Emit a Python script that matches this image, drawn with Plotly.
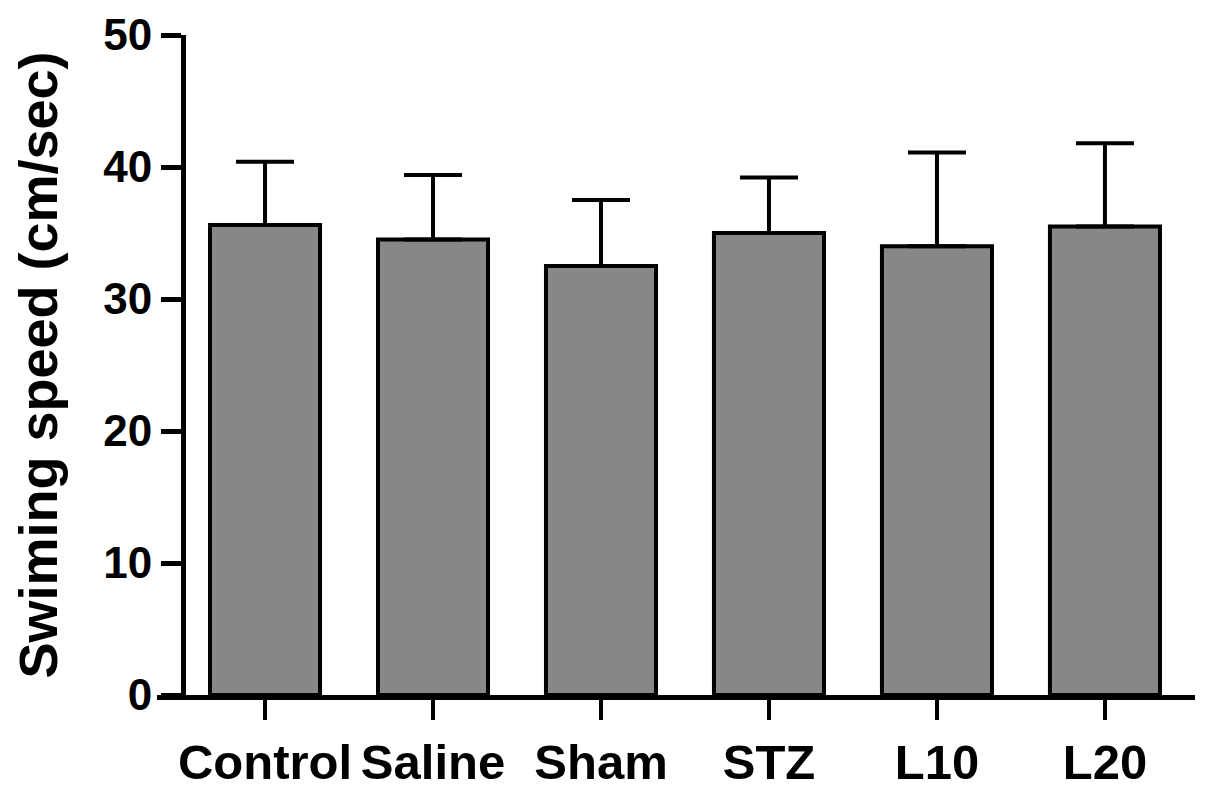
import plotly.graph_objects as go

categories = ["Control", "Saline", "Sham", "STZ", "L10", "L20"]
means = [35.6, 34.5, 32.5, 35.0, 34.0, 35.5]
errors_up = [4.8, 4.9, 5.0, 4.2, 7.1, 6.3]
y_ticks = [0, 10, 20, 30, 40, 50]

fig = go.Figure()
fig.add_trace(go.Bar(
    x=categories,
    y=means,
    marker=dict(color="#878787", line=dict(color="black", width=4)),
    error_y=dict(type="data", symmetric=False, array=errors_up,
                 arrayminus=[0] * len(means), color="black",
                 thickness=4, width=29),
    showlegend=False,
))

font_family = "Liberation Sans, Arial, sans-serif"

fig.update_layout(
    width=1205, height=793,
    margin=dict(l=149, r=18, t=27, b=100),
    paper_bgcolor="white", plot_bgcolor="white",
    bargap=0.345,
    xaxis=dict(
        range=[-0.643, 5.536],
        showline=True, linewidth=5, linecolor="black",
        ticks="outside", ticklen=20, tickwidth=4, tickcolor="black",
        tickfont=dict(family=font_family, size=49, color="black", weight="bold"),
        showgrid=False, zeroline=False,
    ),
    yaxis=dict(
        range=[0, 50],
        tickvals=y_ticks,
        anchor="free", position=0.025,
        showline=True, linewidth=5, linecolor="black",
        ticks="outside", ticklen=20, tickwidth=5, tickcolor="black",
        tickfont=dict(family=font_family, size=44, color="black", weight="bold"),
        ticklabeloverflow="allow",
        showgrid=False, zeroline=False,
        title=dict(text="Swiming speed (cm/sec)", standoff=46,
                   font=dict(family=font_family, size=54, color="black", weight="bold")),
        automargin=False,
    ),
)

fig.write_html("out.html")
